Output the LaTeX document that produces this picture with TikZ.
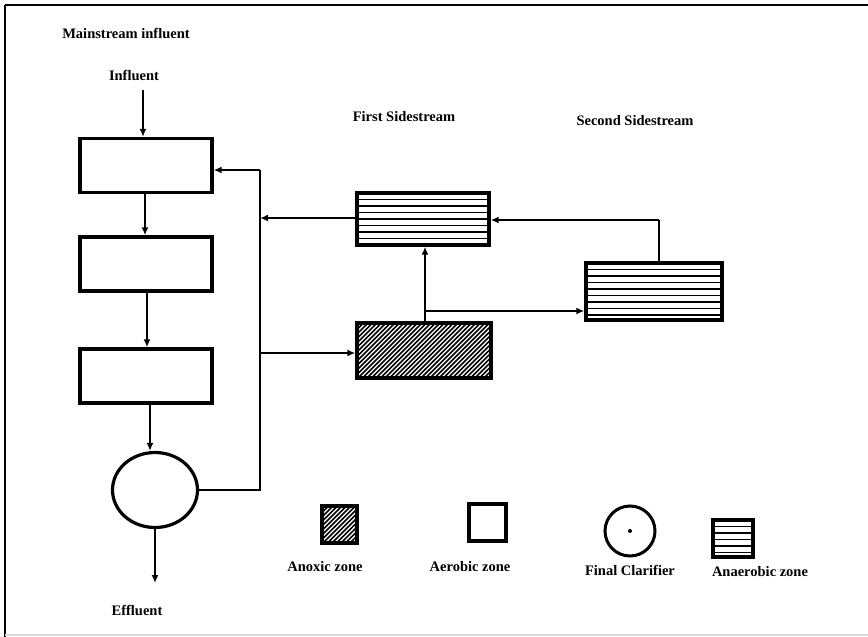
\documentclass[tikz,border=0pt]{standalone}
\usepackage{fontspec}
\setmainfont{Liberation Serif}
\usetikzlibrary{arrows.meta,shapes.geometric}
\begin{document}
\begin{tikzpicture}[x=1pt,y=-1pt,
  lbl/.style={font=\fontsize{14.5}{16}\selectfont\bfseries, inner sep=0pt},
  tank/.style={draw, line width=3.4pt, rectangle, inner sep=0pt},
  aerobic/.style={tank},
  anoxic/.style={tank, path picture={
      \foreach \k in {-80,-75.5,...,160}
        \draw[line width=1.5pt] ([xshift=\k pt]path picture bounding box.south west) -- ++(60pt,60pt);}},
  anaerobic/.style={tank, path picture={
      \foreach \k in {6.5,13,...,66}
        \draw[line width=1.8pt] ([yshift=-\k pt]path picture bounding box.north west) -- ++(150pt,0);}},
  clarifier/.style={draw, line width=3.2pt, ellipse, inner sep=0pt},
  flow/.style={line width=2.8pt, -{Latex[length=8pt,width=7pt]}},
  pipe/.style={line width=2.8pt}
]
\useasboundingbox (0,0) rectangle (868,637);
% frame
\draw[line width=2.5pt] (5,5) -- (868,5);
\draw[line width=2.5pt] (5,5) -- (5,637);
\draw[line width=1.5pt, black!15] (5,635) -- (868,635);

% labels
\node[lbl] (mi) at (126,33) {Mainstream influent};
\node[lbl] (inf) at (134,75) {Influent};
\node[lbl] (fs) at (404,117) {First Sidestream};
\node[lbl] (ss) at (635,121) {Second Sidestream};
\node[lbl] (eff) at (137,610) {Effluent};

% mainstream tanks
\node[aerobic, minimum width=132pt, minimum height=54pt] (b1) at (146,165.5) {};
\node[aerobic, minimum width=132pt, minimum height=54pt] (b2) at (146,264) {};
\node[aerobic, minimum width=132pt, minimum height=54pt] (b3) at (146,376) {};
\node[clarifier, minimum width=85pt, minimum height=75pt] (cl) at (155,490) {};

% sidestream tanks
\node[anaerobic, minimum width=132pt, minimum height=52pt] (an1) at (423,219) {};
\node[anoxic, minimum width=134pt, minimum height=55pt] (ax) at (424,350.5) {};
\node[anaerobic, minimum width=136pt, minimum height=57pt] (an2) at (654,291.5) {};

% coordinates
\coordinate (inTop) at (143,90);
\coordinate (effEnd) at (155,583);
\coordinate (r1) at (260,490);
\coordinate (r2) at (260,170);
\coordinate (j1) at (260,218);
\coordinate (j2) at (260,353);
\coordinate (j3) at (425,311);
\coordinate (t2) at (659,220);

% main flow
\draw[flow] (inTop) -- (inTop |- b1.north);
\draw[flow] (b1.south -| 145,0) -- (b2.north -| 145,0);
\draw[flow] (b2.south -| 147,0) -- (b3.north -| 147,0);
\draw[flow] (b3.south -| 150,0) -- (cl.north -| 150,0);
\draw[flow] (cl.south) -- (effEnd);

% return line
\draw[pipe] (cl.east) -- (r1) -- (r2);
\draw[flow] (r2) -- (r2 -| b1.east);
\draw[flow] (an1.west |- j1) -- (j1);
\draw[flow] (j2) -- (j2 -| ax.west);

% sidestream flows
\draw[flow] (ax.north -| j3) -- (an1.south -| j3);
\draw[flow] (j3) -- (j3 -| an2.west);
\draw[pipe] (an2.north -| t2) -- (t2);
\draw[flow] (t2) -- (t2 -| an1.east);

% legend
\node[anoxic, minimum width=35pt, minimum height=37pt] (lgax) at (339.5,524.5) {};
\node[aerobic, minimum width=37pt, minimum height=37pt] (lgae) at (487.5,522.5) {};
\node[draw, line width=3pt, circle, minimum size=50pt, inner sep=0pt] (lgcl) at (630,531) {};
\fill (lgcl.center) circle (2pt);
\node[anaerobic, minimum width=40pt, minimum height=37pt] (lgan) at (733,538.5) {};

\node[lbl] (tax) at (325,567) {Anoxic zone};
\node[lbl] (tae) at (470,567) {Aerobic zone};
\node[lbl] (tcl) at (630,570) {Final Clarifier};
\node[lbl] (tan) at (760,572) {Anaerobic zone};
\end{tikzpicture}
\end{document}
